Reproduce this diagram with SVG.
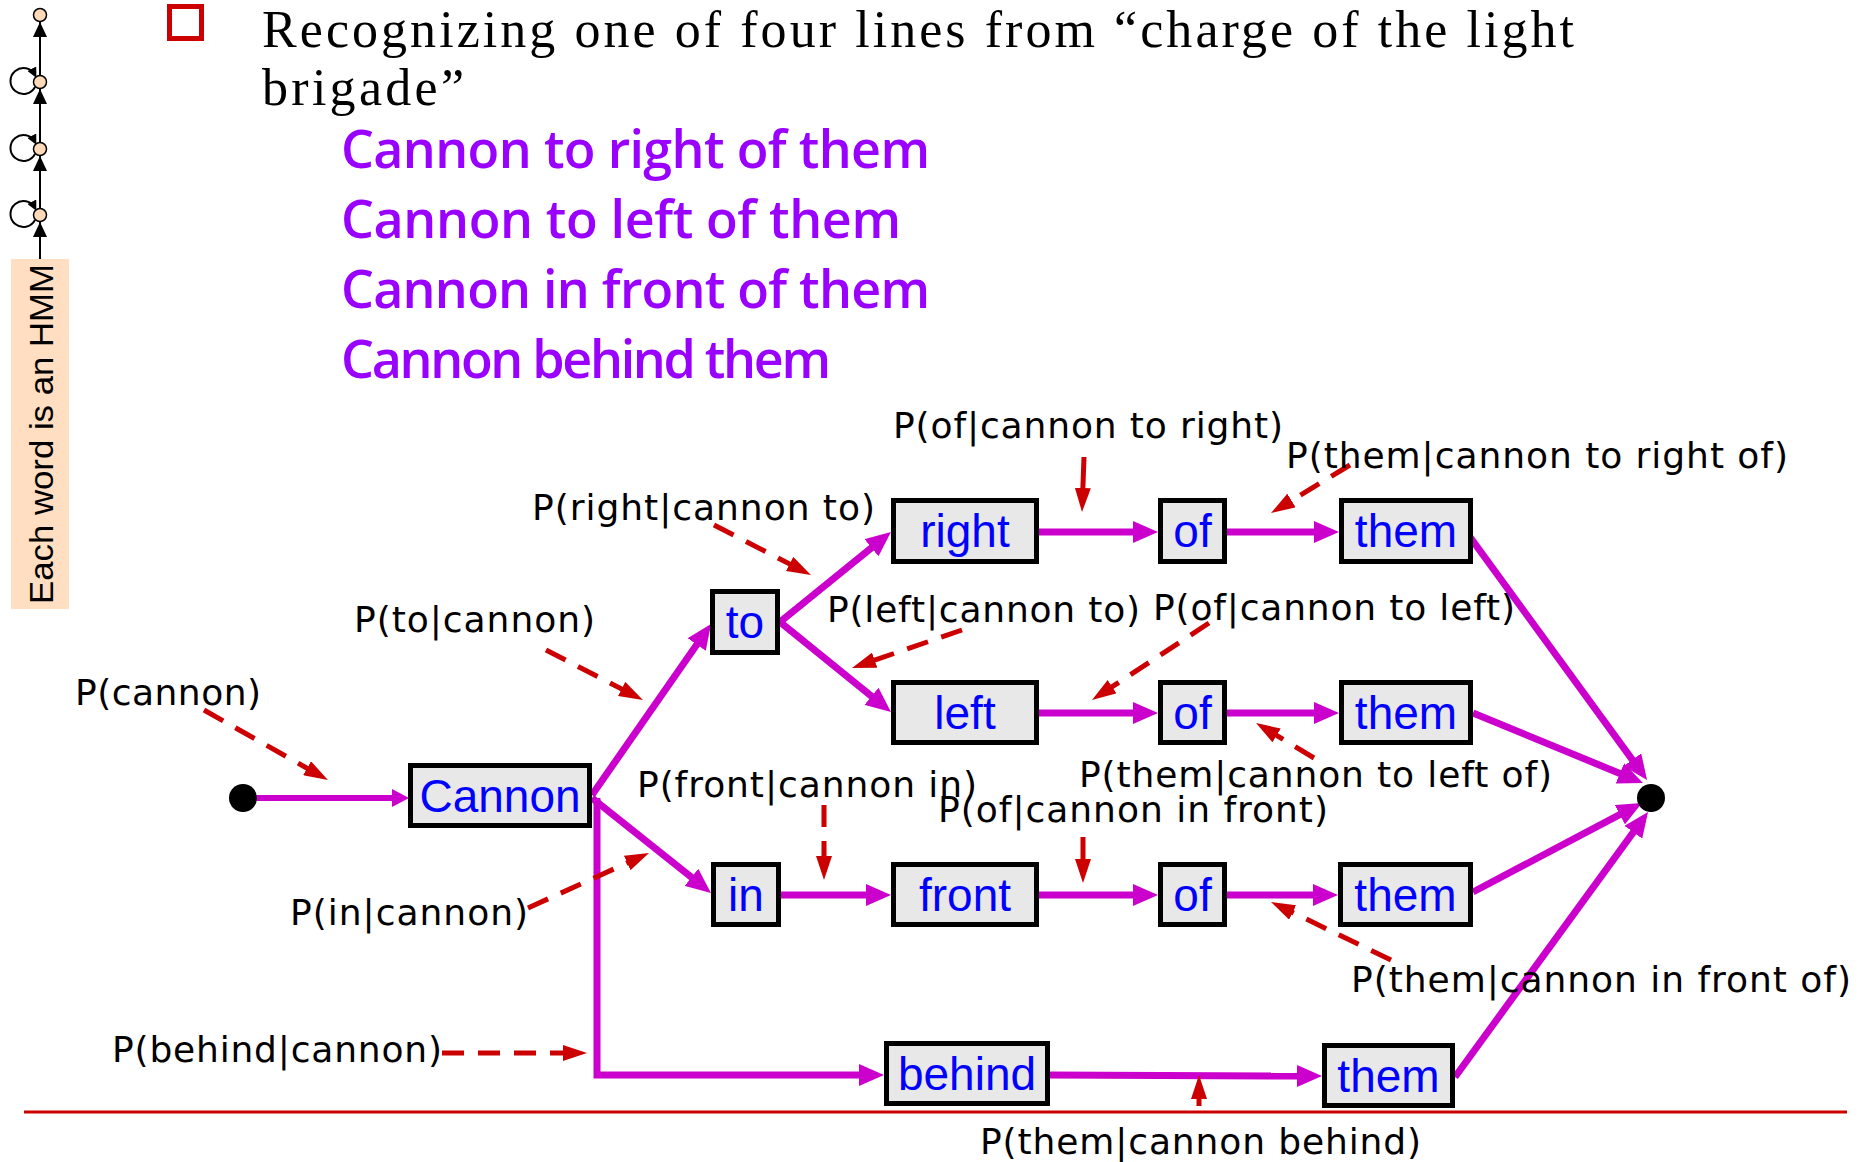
<svg xmlns="http://www.w3.org/2000/svg" xmlns:xlink="http://www.w3.org/1999/xlink" width="1873" height="1162" viewBox="0 0 1873 1162">
<style>
.title{font-family:"Liberation Serif","Times New Roman",serif;font-size:52px;fill:#000}
.line{font-family:"Open Sans","DejaVu Sans",sans-serif;font-size:52px;font-weight:600;fill:#9900FF}
.lbl{font-family:"DejaVu Sans","Liberation Sans",sans-serif;font-size:36px;fill:#000}
.word{font-family:"Liberation Sans",Arial,sans-serif;font-size:46px;fill:#0000FF;text-anchor:middle}
.box{fill:#E8E8E8;stroke:#000;stroke-width:5}
.mg{fill:none;stroke:#CC00CC;stroke-width:7;marker-end:url(#mh)}
.rd{fill:none;stroke:#CC0000;stroke-width:5;stroke-dasharray:22 14;marker-end:url(#rh)}
.rs{fill:none;stroke:#CC0000;stroke-width:5;marker-end:url(#rh)}
.hmm{fill:#FFDAB9;stroke:#000;stroke-width:1.5}
.loop{fill:none;stroke:#000;stroke-width:2;marker-end:url(#lh)}
</style>
<defs>
<marker id="mh" markerUnits="userSpaceOnUse" markerWidth="26" markerHeight="22" refX="2" refY="11" orient="auto"><path d="M0,0 L25,11 L0,22 z" fill="#CC00CC"/></marker>
<marker id="ms" markerUnits="userSpaceOnUse" markerWidth="18" markerHeight="18" refX="2" refY="9" orient="auto"><path d="M0,0 L17,9 L0,18 z" fill="#CC00CC"/></marker>
<marker id="rh" markerUnits="userSpaceOnUse" markerWidth="25" markerHeight="16" refX="2" refY="8" orient="auto"><path d="M0,0 L24,8 L0,16 z" fill="#CC0000"/></marker>
<marker id="lh" markerUnits="userSpaceOnUse" markerWidth="11" markerHeight="10" refX="7" refY="5" orient="auto"><path d="M0,0 L10,5 L0,10 z" fill="#000"/></marker>
<path id="tri" d="M0,0 L7,15 L-7,15 z" fill="#000"/>
</defs>

<g id="hmm-legend">
<rect x="11" y="259" width="58" height="350" fill="#FFDEC2"/>
<text class="lbl" style="font-family:'Liberation Sans',Arial,sans-serif;font-size:33px" transform="translate(53,604) rotate(-90)" textLength="340" lengthAdjust="spacingAndGlyphs">Each word is an HMM</text>
<line x1="40" y1="259" x2="40" y2="21" stroke="#000" stroke-width="2"/>
<use xlink:href="#tri" x="40" y="222"/>
<use xlink:href="#tri" x="40" y="156"/>
<use xlink:href="#tri" x="40" y="89"/>
<use xlink:href="#tri" x="40" y="22"/>
<path class="loop" d="M35,87 A13,13 0 1 1 35,75"/>
<path class="loop" d="M35,154 A13,13 0 1 1 35,142"/>
<path class="loop" d="M35,220 A13,13 0 1 1 35,208"/>
<circle class="hmm" cx="40" cy="15" r="6.5"/>
<circle class="hmm" cx="40" cy="82" r="6.5"/>
<circle class="hmm" cx="40" cy="149" r="6.5"/>
<circle class="hmm" cx="40" cy="215" r="6.5"/>
</g>

<g id="header">
<rect x="169.5" y="6.5" width="32" height="32" fill="none" stroke="#CC0000" stroke-width="5"/>
<text class="title"><tspan x="262" y="47" textLength="1312" lengthAdjust="spacing">Recognizing one of four lines from “charge of the light</tspan><tspan x="262" y="105" textLength="202" lengthAdjust="spacing">brigade”</tspan></text>
<text class="line" x="341" y="168" textLength="589" lengthAdjust="spacing">Cannon to right of them</text>
<text class="line" x="341" y="238" textLength="560" lengthAdjust="spacing">Cannon to left of them</text>
<text class="line" x="341" y="308" textLength="589" lengthAdjust="spacing">Cannon in front of them</text>
<text class="line" x="341" y="378" textLength="490" lengthAdjust="spacing">Cannon behind them</text>
</g>

<g id="connectors">
<line x1="243" y1="798" x2="394" y2="798" stroke="#CC00CC" stroke-width="6" marker-end="url(#ms)"/>
<line class="mg" x1="592" y1="795" x2="697.9" y2="642.9"/>
<line class="mg" x1="780" y1="622" x2="873.1" y2="546.5"/>
<line class="mg" x1="780" y1="622" x2="873.1" y2="697.5"/>
<line class="mg" x1="592" y1="798" x2="693" y2="878.6"/>
<polyline class="mg" points="597,798 597,1075 861,1075"/>
<line class="mg" x1="1039" y1="532" x2="1135" y2="532"/>
<line class="mg" x1="1227" y1="532" x2="1316" y2="532"/>
<line class="mg" x1="1039" y1="713" x2="1135" y2="713"/>
<line class="mg" x1="1227" y1="713" x2="1316" y2="713"/>
<line class="mg" x1="781" y1="895" x2="868" y2="895"/>
<line class="mg" x1="1039" y1="895" x2="1135" y2="895"/>
<line class="mg" x1="1227" y1="895" x2="1315" y2="895"/>
<line class="mg" x1="1050" y1="1075" x2="1299" y2="1076"/>
<line class="mg" x1="1470" y1="537" x2="1633.5" y2="761.4"/>
<line class="mg" x1="1473" y1="713" x2="1621.7" y2="774.2"/>
<line class="mg" x1="1473" y1="892" x2="1621.6" y2="813.7"/>
<line class="mg" x1="1455" y1="1077" x2="1634.5" y2="830.6"/>

<line class="rd" x1="204" y1="710" x2="308.8" y2="769.2"/>
<line class="rd" x1="546" y1="650" x2="623.4" y2="689.9"/>
<line class="rd" x1="714" y1="525" x2="791.4" y2="564.9"/>
<line class="rd" x1="962" y1="630" x2="872.8" y2="660.8"/>
<line class="rd" x1="1209" y1="623" x2="1110.4" y2="687.9"/>
<line class="rs" x1="1084" y1="457" x2="1082.8" y2="490"/>
<line class="rd" x1="1350" y1="465" x2="1289.8" y2="501.6"/>
<line class="rd" x1="1314" y1="758" x2="1274.9" y2="734.4"/>
<line class="rd" x1="824" y1="805" x2="824" y2="858"/>
<line class="rs" x1="1083" y1="837" x2="1083" y2="861"/>
<line class="rd" x1="528" y1="908" x2="629" y2="862.1"/>
<line class="rd" x1="1391" y1="960" x2="1290.8" y2="911.6"/>
<line class="rd" x1="442" y1="1053" x2="565" y2="1053"/>
<line class="rs" x1="1199" y1="1106" x2="1199" y2="1097"/>
</g>

<line x1="24" y1="1112" x2="1847" y2="1112" stroke="#CC0000" stroke-width="3"/>

<g id="start"><circle cx="243" cy="798" r="14" fill="#000"/></g>
<g id="end"><circle cx="1651" cy="798" r="14" fill="#000"/></g>

<g id="n-cannon"><rect class="box" x="410.5" y="765.5" width="179" height="60"/><text class="word" x="500" y="812">Cannon</text></g>
<g id="n-to"><rect class="box" x="712.5" y="591.5" width="65" height="61"/><text class="word" x="745" y="638">to</text></g>
<g id="n-in"><rect class="box" x="713.5" y="864.5" width="65" height="60"/><text class="word" x="746" y="911">in</text></g>
<g id="n-right"><rect class="box" x="893.5" y="500.5" width="143" height="61"/><text class="word" x="965" y="547">right</text></g>
<g id="n-left"><rect class="box" x="893.5" y="682.5" width="143" height="60"/><text class="word" x="965" y="729">left</text></g>
<g id="n-front"><rect class="box" x="893.5" y="864.5" width="143" height="60"/><text class="word" x="965" y="911">front</text></g>
<g id="n-behind"><rect class="box" x="886.5" y="1043.5" width="161" height="60"/><text class="word" x="967" y="1090">behind</text></g>
<g id="n-of1"><rect class="box" x="1160.5" y="500.5" width="64" height="61"/><text class="word" x="1192.5" y="547">of</text></g>
<g id="n-of2"><rect class="box" x="1160.5" y="682.5" width="64" height="60"/><text class="word" x="1192.5" y="729">of</text></g>
<g id="n-of3"><rect class="box" x="1160.5" y="864.5" width="64" height="60"/><text class="word" x="1192.5" y="911">of</text></g>
<g id="n-them1"><rect class="box" x="1341.5" y="500.5" width="129" height="61"/><text class="word" x="1406" y="547">them</text></g>
<g id="n-them2"><rect class="box" x="1341.5" y="682.5" width="129" height="60"/><text class="word" x="1406" y="729">them</text></g>
<g id="n-them3"><rect class="box" x="1340.5" y="864.5" width="130" height="60"/><text class="word" x="1405.5" y="911">them</text></g>
<g id="n-them4"><rect class="box" x="1324.5" y="1045.5" width="128" height="60"/><text class="word" x="1388.5" y="1092">them</text></g>

<g id="labels">
<text class="lbl" x="893" y="438" textLength="390" lengthAdjust="spacing">P(of|cannon to right)</text>
<text class="lbl" x="1286" y="468" textLength="502" lengthAdjust="spacing">P(them|cannon to right of)</text>
<text class="lbl" x="532" y="520" textLength="343" lengthAdjust="spacing">P(right|cannon to)</text>
<text class="lbl" x="827" y="622" textLength="313" lengthAdjust="spacing">P(left|cannon to)</text>
<text class="lbl" x="1153" y="620" textLength="362" lengthAdjust="spacing">P(of|cannon to left)</text>
<text class="lbl" x="354" y="632" textLength="241" lengthAdjust="spacing">P(to|cannon)</text>
<text class="lbl" x="75" y="705" textLength="186" lengthAdjust="spacing">P(cannon)</text>
<text class="lbl" x="637" y="797" textLength="340" lengthAdjust="spacing">P(front|cannon in)</text>
<text class="lbl" x="938" y="822" textLength="390" lengthAdjust="spacing">P(of|cannon in front)</text>
<text class="lbl" x="1079" y="787" textLength="473" lengthAdjust="spacing">P(them|cannon to left of)</text>
<text class="lbl" x="290" y="925" textLength="238" lengthAdjust="spacing">P(in|cannon)</text>
<text class="lbl" x="1351" y="992" textLength="500" lengthAdjust="spacing">P(them|cannon in front of)</text>
<text class="lbl" x="112" y="1062" textLength="330" lengthAdjust="spacing">P(behind|cannon)</text>
<text class="lbl" x="980" y="1154" textLength="441" lengthAdjust="spacing">P(them|cannon behind)</text>
</g>
</svg>
